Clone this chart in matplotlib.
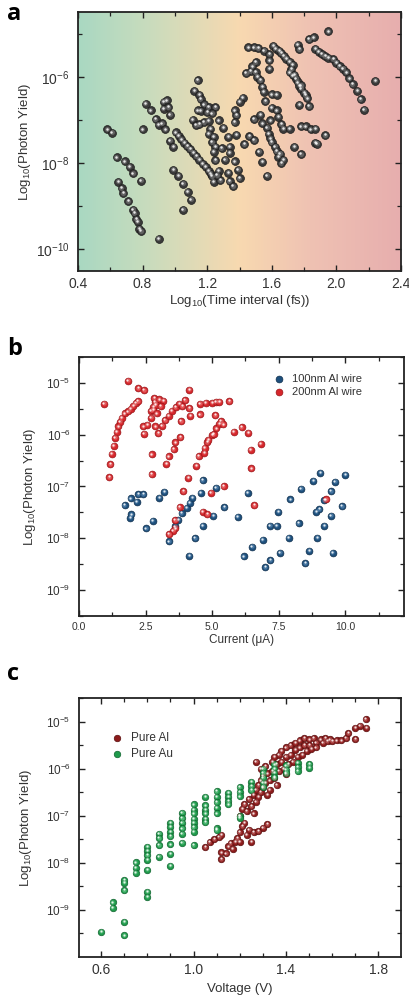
import matplotlib
matplotlib.use('Agg')
import matplotlib.pyplot as plt
import matplotlib.transforms as mtransforms
from matplotlib.colors import LinearSegmentedColormap
from matplotlib.ticker import FixedLocator, LogFormatterSciNotation, NullFormatter, MultipleLocator
import numpy as np

plt.rcParams['font.family'] = ['Liberation Sans', 'DejaVu Sans']
plt.rcParams['mathtext.default'] = 'regular'

# ---- panel a: log10(time interval) vs photon yield (exponent) ----
a_log_time = [
    0.58, 0.61, 0.80, 0.64, 0.69, 0.72, 0.74, 0.79, 0.65, 0.67, 0.68, 0.71, 0.74,
    0.75, 0.76, 0.77, 0.78, 0.79, 0.90,
    0.82, 0.85, 0.88, 0.90, 0.93, 0.95, 0.93, 0.96, 0.97, 0.92, 0.94, 0.97, 0.99,
    0.99, 1.02, 1.05, 1.08, 1.10, 1.05,
    1.005, 1.024, 1.04, 1.059, 1.078, 1.096, 1.115, 1.133, 1.152, 1.171, 1.191,
    1.21, 1.222,
    1.14, 1.12, 1.15, 1.16, 1.18, 1.21, 1.25, 1.14, 1.16, 1.20, 1.23, 1.27, 1.11,
    1.13, 1.15, 1.18, 1.21, 1.22, 1.21, 1.24, 1.30, 1.33, 1.23, 1.25, 1.29, 1.34,
    1.24, 1.25, 1.31, 1.34, 1.37, 1.27, 1.24, 1.28, 1.33, 1.39, 1.34, 1.36, 1.40,
    1.23, 1.26,
    1.42, 1.40, 1.37, 1.38, 1.37, 1.38, 1.49, 1.43, 1.46, 1.49, 1.52, 1.54, 1.57,
    1.53, 1.54, 1.57, 1.59, 1.60, 1.63, 1.64, 1.66, 1.67, 1.71, 1.60, 1.58, 1.59,
    1.60, 1.62, 1.63, 1.64, 1.66, 1.56, 1.65, 1.67,
    1.455, 1.49, 1.516, 1.552, 1.61, 1.625, 1.645, 1.66, 1.675, 1.69, 1.71, 1.73,
    1.585, 1.585, 1.585, 1.50, 1.48, 1.47, 1.44, 1.50, 1.51, 1.53, 1.54, 1.55,
    1.63, 1.72, 1.71, 1.73, 1.75, 1.76, 1.77, 1.78, 1.80, 1.81, 1.82, 1.77, 1.83,
    1.74, 1.78, 1.76, 1.77, 1.83, 1.86, 1.95,
    1.87, 1.89, 1.91, 1.93, 1.95, 1.98, 2.00, 2.02, 2.04, 2.06, 2.08, 2.10, 2.13,
    2.15, 2.17, 2.24,
    1.78, 1.81, 1.84, 1.87, 1.93, 1.87, 1.88, 1.74, 1.78,
]
a_log_yield = [
    -7.22, -7.30, -7.22, -7.87, -7.96, -8.08, -8.24, -8.41, -8.43, -8.58, -8.70,
    -8.88, -9.08, -9.16, -9.30, -9.36, -9.52, -9.58, -9.75,
    -6.62, -6.78, -6.98, -7.11, -6.58, -6.55, -6.74, -6.70, -6.88, -7.08, -7.22,
    -7.48, -7.62, -8.15, -8.29, -8.48, -8.66, -8.85, -9.08,
    -7.29, -7.37, -7.45, -7.53, -7.61, -7.68, -7.76, -7.84, -7.92, -8.01, -8.08,
    -8.18, -8.25,
    -6.08, -6.32, -6.42, -6.52, -6.64, -6.70, -6.70, -6.78, -6.79, -6.82, -6.85,
    -7.01, -7.00, -7.12, -7.10, -7.05, -7.02, -7.20, -7.32, -7.39, -7.18, -7.39,
    -7.51, -7.62, -7.65, -7.62, -7.74, -7.93, -7.92, -7.76, -7.96, -8.18, -8.43,
    -8.39, -8.22, -8.15, -8.42, -8.53, -8.35, -8.30, -8.28,
    -6.49, -6.58, -6.78, -6.89, -7.05, -7.34, -6.98, -7.56, -7.38, -7.47, -7.74,
    -7.97, -8.29, -6.88, -7.08, -7.18, -7.01, -6.72, -6.78, -6.93, -7.10, -7.20,
    -7.20, -6.41, -7.32, -7.43, -7.51, -7.62, -7.72, -7.85, -8.00, -6.56, -7.78,
    -7.92,
    -5.32, -5.32, -5.34, -5.40, -5.28, -5.35, -5.40, -5.45, -5.52, -5.58, -5.65,
    -5.72, -5.48, -5.62, -5.81, -5.66, -5.76, -5.87, -5.92, -5.89, -6.00, -6.08,
    -6.23, -6.35, -6.42, -5.82, -5.90, -5.97, -6.05, -6.13, -6.21, -6.28, -6.37,
    -6.43, -6.50, -6.65, -6.68, -5.95, -6.20, -5.26, -5.36, -5.13, -5.09, -4.95,
    -5.35, -5.42, -5.48, -5.52, -5.56, -5.59, -5.67, -5.75, -5.81, -5.90, -6.04,
    -6.17, -6.32, -6.52, -6.76, -6.09,
    -7.15, -7.15, -7.22, -7.20, -7.35, -7.53, -7.55, -7.62, -7.79,
]

# ---- panel b: current (uA) vs photon yield exponent ----
b100_current = [
    1.72, 1.94, 2.16, 2.23, 2.42, 1.92, 1.97, 2.51, 2.76, 3.01, 3.20, 3.38, 3.60,
    3.73, 3.86, 4.04, 4.16, 4.26, 4.14, 4.35, 4.57, 4.64, 4.64, 5.04, 5.14, 5.45,
    5.95, 6.33, 6.18, 6.49, 6.89, 6.99, 7.18, 7.17, 7.42, 7.48, 7.54, 7.87, 7.93,
    8.25, 8.33, 8.50, 8.65, 8.80, 8.90, 9.02, 8.95, 9.05, 9.21, 9.21, 9.46, 9.46,
    9.52, 9.61, 9.87, 10.0,
]
b100_log_yield = [
    -7.36, -7.23, -7.29, -7.15, -7.15, -7.60, -7.54, -7.81, -7.66, -7.22, -7.10,
    -8.06, -7.77, -7.64, -7.51, -7.41, -7.31, -7.22, -8.34, -8.00, -7.12, -6.88,
    -7.76, -7.56, -7.02, -7.40, -7.58, -7.12, -8.35, -8.16, -8.03, -8.56, -8.42,
    -7.76, -7.76, -7.49, -8.28, -7.99, -7.25, -7.71, -7.04, -8.48, -8.24, -6.89,
    -7.49, -7.44, -7.99, -6.73, -7.26, -7.76, -7.09, -7.56, -8.28, -6.91, -7.38,
    -6.77,
]
b200_current = [
    0.94, 1.13, 1.18, 1.23, 1.30, 1.35, 1.42, 1.48, 1.54, 1.60, 1.72, 1.84, 1.94,
    2.04, 2.13, 2.21, 1.84, 2.23, 2.44, 2.42, 2.44, 2.57, 2.73, 2.73,
    2.70, 2.70, 2.78, 2.82, 2.85, 3.01, 3.17, 2.88, 3.07, 2.78, 2.92,
    2.86, 2.97, 3.11, 3.23, 3.36, 3.48, 3.63, 3.76, 3.88, 3.98, 3.83, 4.14, 4.14,
    4.17, 4.54, 4.76, 5.01, 5.14, 5.26, 5.64, 4.54,
    3.28, 3.36, 3.55, 3.61, 3.80, 4.41, 4.49, 4.70, 4.72, 4.82, 4.86, 5.01, 5.06,
    5.16, 5.26, 5.33, 5.41, 5.11,
    5.80, 6.10, 6.35, 6.44, 6.47, 6.82, 4.10, 3.91, 3.78, 3.60, 3.61, 3.53, 3.38,
    4.64, 4.82, 4.95, 5.43, 6.58, 9.27,
]
b200_log_yield = [
    -5.40, -6.82, -6.57, -6.37, -6.21, -6.06, -5.94, -5.84, -5.75, -5.67, -5.59,
    -5.55, -5.50, -5.44, -5.39, -5.35, -4.96, -5.10, -5.14, -5.84, -5.98, -5.81,
    -6.38, -6.76,
    -5.67, -5.54, -5.46, -5.29, -5.37, -5.32, -5.34, -5.42, -5.45, -5.52, -5.59,
    -5.84, -5.97, -5.83, -5.72, -5.63, -5.54, -5.47, -5.40, -5.45, -5.33, -5.74,
    -5.13, -5.49, -5.63, -5.40, -5.38, -5.38, -5.36, -5.36, -5.35, -5.61,
    -6.56, -6.42, -6.28, -6.15, -6.05, -6.60, -6.41, -6.35, -6.25, -6.14, -6.10,
    -6.00, -5.99, -5.88, -5.79, -5.74, -5.80, -5.62,
    -5.94, -5.85, -5.96, -6.29, -6.65, -6.17, -6.83, -7.09, -7.40, -7.65, -7.81,
    -7.85, -7.92, -7.49, -7.53, -7.12, -6.99, -7.36, -7.25,
]

# ---- panel c: voltage (V) vs photon yield exponent ----
au_voltage = (
    [0.60] + [0.65] * 2 + [0.70] * 5 + [0.75] * 3 + [0.80] * 7 + [0.85] * 4
    + [0.90] * 7 + [0.95] * 6 + [1.00] * 8 + [1.05] * 6 + [1.10] * 7
    + [1.15] * 4 + [1.20] * 5 + [1.25] * 3 + [1.30] * 5 + [1.35] * 4
    + [1.40] * 3 + [1.45] * 3 + [1.50] * 2
)
au_log_yield = [
    -9.46,
    -8.84, -8.95,
    -8.37, -8.42, -8.58, -9.25, -9.54,
    -7.99, -8.10, -8.21,
    -7.66, -7.74, -7.84, -7.93, -8.15, -8.61, -8.72,
    -7.38, -7.48, -7.62, -7.87,
    -7.15, -7.23, -7.34, -7.43, -7.61, -7.81, -8.06,
    -6.94, -7.05, -7.15, -7.27, -7.38, -7.57,
    -6.76, -6.87, -6.95, -7.06, -7.15, -7.24, -7.34, -7.62,
    -6.60, -6.78, -6.87, -6.95, -7.06, -7.14,
    -6.48, -6.60, -6.71, -6.83, -6.95, -7.27, -7.31,
    -6.51, -6.60, -6.69, -6.76,
    -6.39, -6.50, -6.59, -7.01, -7.04,
    -6.28, -6.37, -6.46,
    -6.00, -6.09, -6.19, -6.30, -6.38,
    -5.91, -6.00, -6.09, -6.18,
    -5.93, -6.02, -6.09,
    -5.87, -5.97, -6.05,
    -5.90, -5.98,
]
al_voltage = [
    1.27, 1.29, 1.30, 1.31, 1.32, 1.33, 1.34, 1.34, 1.35, 1.35, 1.36, 1.36, 1.37,
    1.37, 1.38, 1.38, 1.39, 1.40, 1.40, 1.40, 1.41, 1.42, 1.42, 1.43, 1.44, 1.44,
    1.45, 1.46, 1.46, 1.47, 1.48, 1.48, 1.49, 1.50, 1.50, 1.51, 1.52, 1.53, 1.53,
    1.55, 1.56, 1.57, 1.58, 1.59, 1.60, 1.62, 1.64, 1.66, 1.67, 1.70, 1.70, 1.72,
    1.745, 1.748,
    1.20, 1.21, 1.22, 1.23, 1.24, 1.25, 1.26, 1.26, 1.27, 1.27, 1.28, 1.28, 1.29,
    1.29, 1.30, 1.31, 1.32, 1.33,
    1.05, 1.07, 1.09, 1.11, 1.12, 1.12, 1.12, 1.14, 1.15, 1.16, 1.17, 1.18, 1.19,
    1.20, 1.20, 1.21, 1.22, 1.23, 1.24, 1.25, 1.26, 1.28, 1.30, 1.32,
]
al_log_yield = [
    -5.85, -6.00, -6.15, -5.95, -6.10, -6.25, -5.85, -6.05, -5.75, -6.20, -5.90,
    -6.35, -5.70, -6.05, -5.62, -5.85, -6.00, -5.55, -5.75, -6.12, -5.90, -5.50,
    -5.70, -5.85, -5.45, -5.60, -5.75, -5.40, -5.55, -5.70, -5.35, -5.50, -5.62,
    -5.38, -5.50, -5.58, -5.35, -5.45, -5.55, -5.38, -5.45, -5.35, -5.42, -5.38,
    -5.42, -5.40, -5.40, -5.35, -5.25, -5.13, -5.37, -5.09, -4.95, -5.13,
    -7.00, -6.85, -6.75, -6.90, -6.65, -6.80, -6.55, -6.95, -6.45, -6.70, -6.35,
    -6.60, -6.25, -6.50, -6.40, -6.30, -6.55, -6.45,
    -7.67, -7.56, -7.50, -7.45, -7.40, -7.78, -7.92, -7.80, -7.65, -7.58, -7.70,
    -7.55, -7.48, -7.35, -7.55, -7.22, -7.15, -7.40, -7.30, -7.55, -7.35, -7.33,
    -7.25, -7.18,
]

FIG_W, FIG_H = 409, 1001


def _axes_rect(left, top, right, bottom):
    return [left / FIG_W, 1 - bottom / FIG_H, (right - left) / FIG_W,
            (bottom - top) / FIG_H]


def _spheres(ax, x, y, base, edge, mid, size, label=None):
    x = np.asarray(x)
    y = 10.0 ** np.asarray(y)
    h = ax.scatter(x, y, s=size, c=base, edgecolors=edge, linewidths=0.5,
                   zorder=3, label=label)
    mid_tr = mtransforms.offset_copy(ax.transData, fig=ax.figure,
                                     x=-0.25, y=0.3, units='points')
    ax.scatter(x, y, s=size * 0.4, c=mid, alpha=0.5, linewidths=0,
               zorder=4, transform=mid_tr)
    hl_tr = mtransforms.offset_copy(ax.transData, fig=ax.figure,
                                    x=-0.4, y=0.6, units='points')
    ax.scatter(x, y, s=size * 0.1, c='white', alpha=0.85, linewidths=0,
               zorder=5, transform=hl_tr)
    return h


def _style(ax, xsize, ysize, minor_y):
    ax.set_yscale('log')
    ax.yaxis.set_minor_locator(FixedLocator(minor_y))
    ax.yaxis.set_minor_formatter(NullFormatter())
    ax.tick_params(which='both', direction='in', top=True, right=True,
                   color='#222222')
    ax.tick_params(which='major', length=4, width=1.0)
    ax.tick_params(which='minor', length=3, width=0.9)
    ax.tick_params(axis='x', labelsize=xsize, pad=4, labelcolor='#333333')
    ax.tick_params(axis='y', labelsize=ysize, pad=6, labelcolor='#333333')
    for sp in ax.spines.values():
        sp.set_linewidth(1.3)
        sp.set_color('#222222')


fig = plt.figure(figsize=(FIG_W / 100, FIG_H / 100), dpi=100)

# ---------------- panel a ----------------
rect_a = _axes_rect(78, 12, 401, 271)
bg = fig.add_axes(rect_a, zorder=0)
grad_cmap = LinearSegmentedColormap.from_list(
    'bg', [(0.0, '#a9d8c2'), (0.22, '#c9dcbd'), (0.5, '#f8d9b0'),
           (0.72, '#efc2b3'), (1.0, '#e7aeae')])
bg.imshow(np.linspace(0, 1, 256)[None, :], aspect='auto', cmap=grad_cmap,
          extent=[0, 1, 0, 1])
bg.axis('off')

ax_a = fig.add_axes(rect_a, zorder=1)
ax_a.patch.set_alpha(0)
_spheres(ax_a, a_log_time, a_log_yield, '#3a3a3a', '#1c1c1c', '#8c8c8c', 32)
_style(ax_a, 10, 10, [1e-9, 1e-7, 1e-5])
ax_a.yaxis.set_major_locator(FixedLocator([1e-10, 1e-8, 1e-6]))
ax_a.yaxis.set_major_formatter(LogFormatterSciNotation())
ax_a.set_xlim(0.4, 2.4)
ax_a.set_ylim(10 ** -10.5, 10 ** -4.5)
ax_a.xaxis.set_major_locator(MultipleLocator(0.4))
ax_a.xaxis.set_minor_locator(MultipleLocator(0.2))
ax_a.xaxis.set_major_formatter(plt.FuncFormatter(lambda v, p: f'{v:.1f}'))
ax_a.set_xlabel(r'Log$_{10}$(Time interval (fs))', fontsize=9.5,
                color='#333333')
ax_a.set_ylabel(r'Log$_{10}$(Photon Yield)', fontsize=9.5, color='#333333')
ax_a.xaxis.set_label_coords(0.5, -0.085)
ax_a.yaxis.set_label_coords(-0.14, 0.5)

# ---------------- panel b ----------------
ax_b = fig.add_axes(_axes_rect(79, 357, 404, 616))
h100 = _spheres(ax_b, b100_current, b100_log_yield, '#1d4f7c', '#0f2f4d',
                '#6f9cc4', 24, label='100nm Al wire')
h200 = _spheres(ax_b, b200_current, b200_log_yield, '#d6262b', '#9a1518',
                '#f08c8c', 24, label='200nm Al wire')
_style(ax_b, 7.5, 8.5, [10 ** (k + 0.5) for k in range(-10, -4)])
ax_b.yaxis.set_major_locator(FixedLocator([1e-9, 1e-8, 1e-7, 1e-6, 1e-5]))
ax_b.yaxis.set_major_formatter(LogFormatterSciNotation())
ax_b.set_xlim(0, 12.2)
ax_b.set_ylim(10 ** -9.5, 10 ** -4.5)
ax_b.xaxis.set_major_locator(MultipleLocator(2.5))
ax_b.xaxis.set_minor_locator(MultipleLocator(1.25))
ax_b.xaxis.set_major_formatter(plt.FuncFormatter(lambda v, p: f'{v:.1f}'))
ax_b.set_xlabel('Current (μA)', fontsize=8.5, color='#333333')
ax_b.set_ylabel(r'Log$_{10}$(Photon Yield)', fontsize=9.5, color='#333333')
ax_b.xaxis.set_label_coords(0.5, -0.07)
ax_b.yaxis.set_label_coords(-0.125, 0.5)
ax_b.legend(handles=[h100, h200], loc='upper left',
            bbox_to_anchor=(0.57, 0.965), frameon=False, fontsize=8,
            handletextpad=0.6, labelspacing=0.3, borderpad=0.2,
            handlelength=1.2, labelcolor='#333333')

# ---------------- panel c ----------------
ax_c = fig.add_axes(_axes_rect(79, 698, 401, 957))
h_al = _spheres(ax_c, al_voltage, al_log_yield, '#8c1b1b', '#5a0e0e',
                '#d07a7a', 22, label='Pure Al')
h_au = _spheres(ax_c, au_voltage, au_log_yield, '#1f9a4b', '#10642e',
                '#7fd39c', 22, label='Pure Au')
_style(ax_c, 10, 8.5, [10 ** (k + 0.5) for k in range(-10, -4)])
ax_c.yaxis.set_major_locator(FixedLocator([1e-9, 1e-8, 1e-7, 1e-6, 1e-5]))
ax_c.yaxis.set_major_formatter(LogFormatterSciNotation())
ax_c.set_xlim(0.504, 1.898)
ax_c.set_ylim(1e-10, 10 ** -4.5)
ax_c.xaxis.set_major_locator(FixedLocator([0.6, 1.0, 1.4, 1.8]))
ax_c.xaxis.set_minor_locator(MultipleLocator(0.1))
ax_c.xaxis.set_major_formatter(plt.FuncFormatter(lambda v, p: f'{v:.1f}'))
ax_c.set_xlabel('Voltage (V)', fontsize=9.5, color='#333333')
ax_c.set_ylabel(r'Log$_{10}$(Photon Yield)', fontsize=9.5, color='#333333')
ax_c.xaxis.set_label_coords(0.5, -0.1)
ax_c.yaxis.set_label_coords(-0.14, 0.5)
ax_c.legend(handles=[h_al, h_au], loc='upper left',
            bbox_to_anchor=(0.07, 0.9), frameon=False, fontsize=8.5,
            handletextpad=0.6, labelspacing=0.3, borderpad=0.2,
            handlelength=1.2, labelcolor='#333333')

# panel letters
for letter, ybase in [('a', 0.980), ('b', 0.645), ('c', 0.321)]:
    fig.text(0.018, ybase, letter, fontsize=17, fontweight='bold',
             family=['Open Sans', 'DejaVu Sans'], va='baseline', ha='left')

fig.savefig('out.png', dpi=100)
